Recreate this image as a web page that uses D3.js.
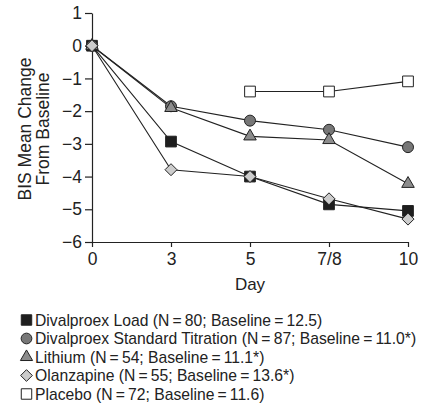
<!DOCTYPE html>
<html>
<head>
<meta charset="utf-8">
<script src="https://cdn.jsdelivr.net/npm/d3@7"></script>
<style>
  body { margin: 0; background: #fff; }
  text { font-family: "Liberation Sans", Arial, sans-serif; fill: #222; }
</style>
</head>
<body>
<div id="chart"></div>
<script>
// Data
let days = ["0", "3", "5", "7/8", "10"];
let yTicks = [1, 0, -1, -2, -3, -4, -5, -6];

let divalproexLoad = [0, -2.93, -4.0, -4.85, -5.05];
let divalproexStd = [0, -1.85, -2.29, -2.57, -3.1];
let lithium = [0, -1.9, -2.77, -2.88, -4.22];
let olanzapine = [0, -3.79, -4.0, -4.68, -5.3];
let placebo = [null, null, -1.4, -1.4, -1.09];

let seriesNames = [
    "Divalproex Load (N\u2009=\u200980; Baseline\u2009=\u200912.5)",
    "Divalproex Standard Titration (N\u2009=\u200987; Baseline\u2009=\u200911.0*)",
    "Lithium (N\u2009=\u200954; Baseline\u2009=\u200911.1*)",
    "Olanzapine (N\u2009=\u200955; Baseline\u2009=\u200913.6*)",
    "Placebo (N\u2009=\u200972; Baseline\u2009=\u200911.6)"
];

// square turned 45 degrees, as drawn in the figure
let symbolRhombus = {
    draw(context, size) {
        let r = Math.sqrt(size / 2);
        context.moveTo(0, -r);
        context.lineTo(r, 0);
        context.lineTo(0, r);
        context.lineTo(-r, 0);
        context.closePath();
    }
};

let series = [
    {name: seriesNames[0], values: divalproexLoad, shape: d3.symbolSquare, fill: "#1e1e1e", size: 115},
    {name: seriesNames[1], values: divalproexStd, shape: d3.symbolCircle, fill: "#777777", size: 95},
    {name: seriesNames[2], values: lithium, shape: d3.symbolTriangle, fill: "#8c8c8c", size: 68},
    {name: seriesNames[3], values: olanzapine, shape: symbolRhombus, fill: "#cccccc", size: 72},
    {name: seriesNames[4], values: placebo, shape: d3.symbolSquare, fill: "#ffffff", size: 115}
];

let width = 424;
let height = 407;
let margin = {top: 13, left: 92, right: 16, bottom: 165};

let svg = d3.select("#chart")
    .append("svg")
    .attr("width", width)
    .attr("height", height);

let x = d3.scalePoint()
    .domain(days)
    .range([margin.left, width - margin.right]);

let y = d3.scaleLinear()
    .domain([-6, 1])
    .range([height - margin.bottom, margin.top]);

// Axes
svg.append("g")
    .attr("transform", `translate(0, ${y(-6)})`)
    .call(d3.axisBottom(x).tickSize(5).tickSizeOuter(0).tickPadding(6));

svg.append("g")
    .attr("transform", `translate(${margin.left}, 0)`)
    .call(d3.axisLeft(y).tickValues(yTicks)
        .tickFormat(d => d < 0 ? "\u2212" + Math.abs(d) : d)
        .tickSize(7).tickSizeOuter(0).tickPadding(3));

svg.selectAll(".domain, .tick line").attr("stroke", "#222").attr("stroke-width", 1.2);
svg.selectAll(".tick text")
    .style("font-family", "'Liberation Sans', Arial, sans-serif")
    .style("font-size", "17.5px")
    .attr("fill", "#222");

// Axis titles
svg.append("text")
    .attr("x", x("5"))
    .attr("y", 290)
    .attr("text-anchor", "middle")
    .style("font-size", "17px")
    .text("Day");

svg.append("text")
    .attr("transform", "translate(31, 129) rotate(-90)")
    .attr("text-anchor", "middle")
    .style("font-size", "17.5px")
    .text("BIS Mean Change");

svg.append("text")
    .attr("transform", "translate(49, 129) rotate(-90)")
    .attr("text-anchor", "middle")
    .style("font-size", "17.5px")
    .text("From Baseline");

// Lines
let line = d3.line()
    .defined(d => d.v !== null)
    .x(d => x(d.day))
    .y(d => y(d.v));

series.forEach(s => {
    let pts = days.map((day, i) => ({day: day, v: s.values[i]}));
    svg.append("path")
        .datum(pts)
        .attr("d", line)
        .attr("fill", "none")
        .attr("stroke", "#222")
        .attr("stroke-width", 1.1);
});

// Markers (drawn after all lines)
series.forEach(s => {
    let pts = days.map((day, i) => ({day: day, v: s.values[i]})).filter(d => d.v !== null);
    svg.selectAll(null)
        .data(pts)
        .enter()
        .append("path")
        .attr("transform", d => `translate(${x(d.day)}, ${y(d.v)})`)
        .attr("d", d3.symbol().type(s.shape).size(s.size))
        .attr("fill", s.fill)
        .attr("stroke", "#222")
        .attr("stroke-width", 1);
});

// Legend
let legend = svg.append("g").attr("transform", "translate(26.5, 320)");
series.forEach((s, i) => {
    let row = legend.append("g").attr("transform", `translate(0, ${i * 18.5})`);
    row.append("path")
        .attr("d", d3.symbol().type(s.shape).size(s.size * 0.95))
        .attr("fill", s.fill)
        .attr("stroke", "#222")
        .attr("stroke-width", 1);
    row.append("text")
        .attr("x", 8.5)
        .attr("y", 5.8)
        .style("font-size", "15.7px")
        .text(s.name);
});
</script>
</body>
</html>
